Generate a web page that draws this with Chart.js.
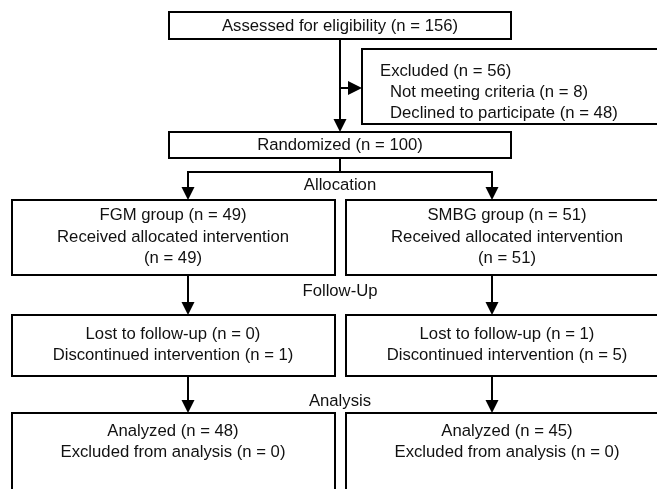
<!DOCTYPE html>
<html lang="en">
  <head>
    <meta charset="UTF-8" />
    <title>Participant flow</title>
    <script src="https://cdn.jsdelivr.net/npm/chart.js@4.4.0/dist/chart.umd.min.js"></script>
    <style>
      body { margin: 0; background: #fff; }
      #wrap { width: 657px; height: 489px; }
    </style>
  </head>
  <body>
    <div id="wrap"><canvas id="myChart"></canvas></div>

    <script>
      // Flow counts
      const assessedN = 156;
      const excludedN = 56;
      const excludedReasons = ['Not meeting criteria', 'Declined to participate'];
      const excludedReasonN = [8, 48];
      const randomizedN = 100;
      const phases = ['Allocation', 'Follow-Up', 'Analysis'];
      const groups = ['FGM group', 'SMBG group'];
      const allocatedN = [49, 51];
      const receivedN = [49, 51];
      const lostN = [0, 1];
      const discontinuedN = [1, 5];
      const analyzedN = [48, 45];
      const excludedAnalysisN = [0, 0];

      // box layout in diagram units (same as picture pixels)
      const colBox = [[12, 335], [346, 669]];
      const colArrow = [188, 492];
      const colText = [173, 507];

      const flowPlugin = {
        id: 'flow',
        afterDraw(chart) {
          const ctx = chart.ctx;
          const sx = chart.scales.x, sy = chart.scales.y;
          const X = v => sx.getPixelForValue(v);
          const Y = v => sy.getPixelForValue(v);

          ctx.save();
          ctx.strokeStyle = '#000';
          ctx.fillStyle = '#000';
          ctx.lineJoin = 'miter';

          function box(x1, y1, x2, y2) {
            ctx.lineWidth = 2;
            ctx.strokeRect(X(x1), Y(y1), X(x2) - X(x1), Y(y2) - Y(y1));
          }
          function line(x1, y1, x2, y2) {
            ctx.lineWidth = 2;
            ctx.beginPath();
            ctx.moveTo(X(x1), Y(y1));
            ctx.lineTo(X(x2), Y(y2));
            ctx.stroke();
          }
          function arrowDown(x, y1, y2) {
            line(x, y1, x, y2 - 12);
            ctx.beginPath();
            ctx.moveTo(X(x - 6.5), Y(y2 - 13));
            ctx.lineTo(X(x + 6.5), Y(y2 - 13));
            ctx.lineTo(X(x), Y(y2));
            ctx.closePath();
            ctx.fill();
          }
          function arrowRight(x1, x2, y) {
            line(x1, y, x2 - 12, y);
            ctx.beginPath();
            ctx.moveTo(X(x2 - 14), Y(y - 7));
            ctx.lineTo(X(x2 - 14), Y(y + 7));
            ctx.lineTo(X(x2), Y(y));
            ctx.closePath();
            ctx.fill();
          }
          function text(str, x, y, align) {
            ctx.font = '16.7px "Liberation Sans", Arial, sans-serif';
            ctx.textAlign = align || 'center';
            ctx.textBaseline = 'middle';
            ctx.fillStyle = '#111';
            ctx.fillText(str, X(x), Y(y));
            ctx.fillStyle = '#000';
          }

          // enrolment
          box(169, 12, 511, 39);
          text('Assessed for eligibility (n = ' + assessedN + ')', 340, 26);
          arrowDown(340, 39, 132);
          arrowRight(340, 362, 88);
          box(362, 49, 680, 124);
          text('Excluded (n = ' + excludedN + ')', 380, 71, 'left');
          excludedReasons.forEach((r, i) => {
            text(r + ' (n = ' + excludedReasonN[i] + ')', 390, 92 + i * 21, 'left');
          });
          box(169, 132, 511, 158);
          text('Randomized (n = ' + randomizedN + ')', 340, 145);
          line(340, 158, 340, 172);
          line(colArrow[0] - 1, 172, colArrow[1] + 1, 172);

          text(phases[0], 340, 185);
          text(phases[1], 340, 291);
          text(phases[2], 340, 401);

          groups.forEach((g, i) => {
            const [l, r] = colBox[i];
            const cx = colText[i];
            arrowDown(colArrow[i], 172, 200);
            box(l, 200, r, 275);
            text(g + ' (n = ' + allocatedN[i] + ')', cx, 215);
            text('Received allocated intervention', cx, 237);
            text('(n = ' + receivedN[i] + ')', cx, 258);

            arrowDown(colArrow[i], 275, 315);
            box(l, 315, r, 376);
            text('Lost to follow-up (n = ' + lostN[i] + ')', cx, 334);
            text('Discontinued intervention (n = ' + discontinuedN[i] + ')', cx, 355);

            arrowDown(colArrow[i], 376, 413);
            box(l, 413, r, 520);
            text('Analyzed (n = ' + analyzedN[i] + ')', cx, 431);
            text('Excluded from analysis (n = ' + excludedAnalysisN[i] + ')', cx, 452);
          });
          ctx.restore();
        }
      };

      const ctx = document.getElementById('myChart').getContext('2d');
      const myChart = new Chart(ctx, {
        type: 'scatter',
        data: { datasets: [{ data: [], showLine: false }] },
        options: {
          responsive: true,
          maintainAspectRatio: false,
          animation: false,
          layout: { padding: 0 },
          plugins: { legend: { display: false }, tooltip: { enabled: false } },
          scales: {
            x: { type: 'linear', min: 0, max: 657, display: false },
            y: { type: 'linear', min: 0, max: 489, reverse: true, display: false }
          }
        },
        plugins: [flowPlugin]
      });
    </script>
  </body>
</html>
